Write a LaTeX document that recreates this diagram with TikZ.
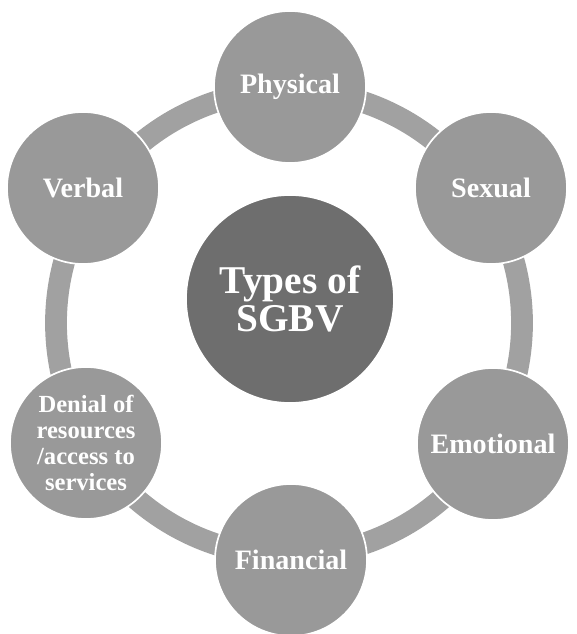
\documentclass[tikz,border=0pt]{standalone}
\usepackage{fontspec}
\setmainfont{Liberation Serif}
\definecolor{ringgray}{gray}{0.63}
\definecolor{typegray}{gray}{0.6}
\definecolor{hubgray}{gray}{0.43}
\tikzset{
	typebox/.style={circle,fill=typegray,draw=white,line width=1.2pt,minimum size=3.8cm,inner sep=0pt,text=white,font=\bfseries\fontsize{20}{18}\selectfont,align=center},
	hubbox/.style={circle,fill=hubgray,draw=white,line width=1.2pt,minimum size=5.2cm,inner sep=0pt,text=white,font=\bfseries\fontsize{28}{27}\selectfont,align=center},
	ring/.style={draw=ringgray,line width=15.5pt}
}
\begin{document}
\begin{tikzpicture}
		\useasboundingbox (0,0) rectangle (14.4,15.85);
		\coordinate (ringc) at (7.225,7.775);
		\draw[ring] (ringc) circle (5.825);
		\node[hubbox] (sgbv) at (7.25,8.375) {Types of\\SGBV};
		\node[typebox] (physical) at (7.25,13.675) {Physical};
		\node[typebox] (sexual) at (12.275,11.15) {Sexual};
		\node[typebox] (emotional) at (12.325,4.75) {Emotional};
		\node[typebox] (financial) at (7.275,1.85) {Financial};
		\node[typebox,font=\bfseries\fontsize{17.5}{18.5}\selectfont] (denial) at (2.15,4.775) {Denial of\\resources\\/access to\\services};
		\node[typebox] (verbal) at (2.075,11.15) {Verbal};
\end{tikzpicture}
\end{document}
